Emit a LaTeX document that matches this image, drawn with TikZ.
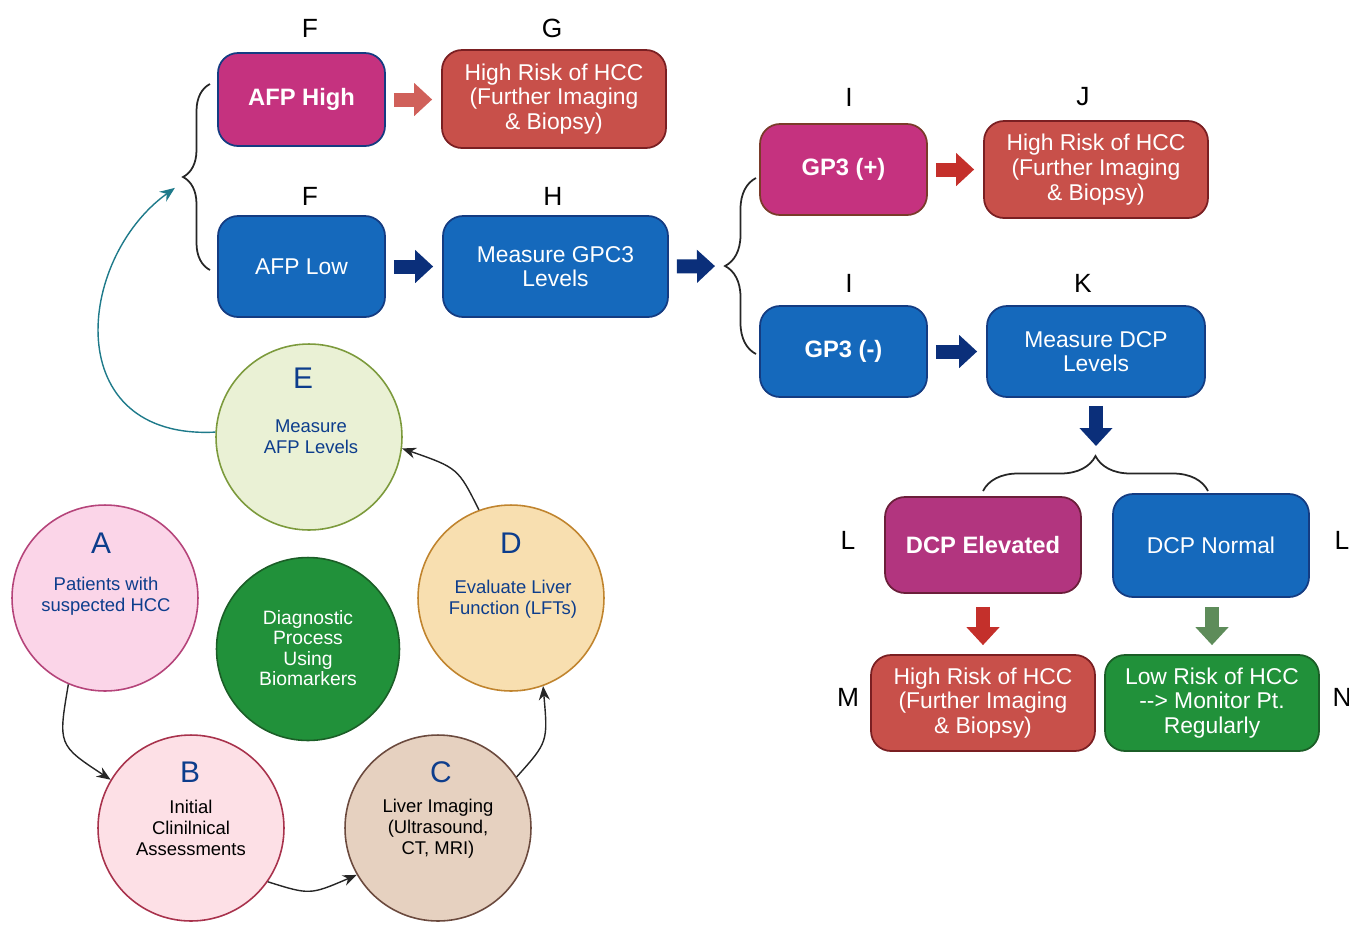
\documentclass[tikz,border=0pt]{standalone}
\usepackage{fontspec}
\setmainfont{Liberation Sans}
\usetikzlibrary{positioning,arrows.meta,decorations.pathreplacing}

\definecolor{boxmagenta}{HTML}{C5327F}
\definecolor{boxplum}{HTML}{B2357F}
\definecolor{boxred}{HTML}{C8504A}
\definecolor{boxblue}{HTML}{1569BC}
\definecolor{boxgreen}{HTML}{21913A}
\definecolor{edgenavy}{HTML}{143C82}
\definecolor{edgered}{HTML}{7A1F22}
\definecolor{edgegreen}{HTML}{1B5E27}
\definecolor{arrnavy}{HTML}{0B2F7A}
\definecolor{arrsalmon}{HTML}{D0605A}
\definecolor{arrred}{HTML}{C4302B}
\definecolor{arrgreen}{HTML}{5E8C5A}
\definecolor{txtblue}{HTML}{0D3D8C}
\definecolor{loopteal}{HTML}{1E7A8A}

\tikzset{
  box/.style={draw, rounded corners=0.4cm, line width=1pt, text=white, align=center,
    inner sep=2pt, font=\fontsize{13}{14}\selectfont},
  boldbox/.style={box, font=\bfseries\fontsize{13.5}{14}\selectfont},
  tag/.style={font=\fontsize{15}{15}\selectfont},
  stage/.style={circle, draw, line width=0.9pt, minimum size=3.72cm, inner sep=0pt},
  stageletter/.style={font=\fontsize{17}{17}\selectfont, text=txtblue},
  stagetext/.style={align=center, font=\fontsize{10.5}{12}\selectfont},
  blockarrow/.style={line width=0.28cm, -{Triangle[length=0.36cm,width=0.64cm]},
    shorten <=0.16cm, shorten >=0.18cm},
  curly/.style={decorate, line width=1pt, black!85},
  steparrow/.style={line width=0.8pt, black!85, -{Stealth[length=0.28cm,width=0.22cm]}}
}

\begin{document}
\begin{tikzpicture}[x=0.02cm, y=-0.02cm]
\useasboundingbox (0,0) rectangle (1349,924);

% Cycle of stages
\node[stage, fill={rgb,255:red,251;green,213;blue,232}, draw={rgb,255:red,181;green,68;blue,122}] (A) at (105,598) {};
\node[stage, fill={rgb,255:red,253;green,224;blue,230}, draw={rgb,255:red,168;green,50;blue,76}] (B) at (191,828) {};
\node[stage, fill={rgb,255:red,230;green,209;blue,192}, draw={rgb,255:red,107;green,74;blue,62}] (C) at (438,828) {};
\node[stage, fill={rgb,255:red,248;green,223;blue,176}, draw={rgb,255:red,192;green,132;blue,46}] (D) at (511,598) {};
\node[stage, fill={rgb,255:red,234;green,241;blue,213}, draw={rgb,255:red,124;green,154;blue,60}] (E) at (309,437) {};
\node[stage, fill=boxgreen, draw=edgegreen, minimum size=3.66cm] (hub) at (308,649) {};

\node[stageletter] at (101,543) {A};
\node[stageletter] at (190,772) {B};
\node[stageletter] at (441,772) {C};
\node[stageletter] at (511,543) {D};
\node[stageletter] at (303,378) {E};

\node[stagetext, text=txtblue] at (106,596) {Patients with\\suspected HCC};
\node[stagetext] at (191,828) {Initial\\Clinilnical\\Assessments};
\node[stagetext] at (438,829) {Liver Imaging\\(Ultrasound,\\CT, MRI)};
\node[stagetext, text=txtblue] at (513,599) {Evaluate Liver\\Function (LFTs)};
\node[stagetext, text=txtblue] at (311,437) {Measure\\AFP Levels};
\node[stagetext, text=white, font=\fontsize{11}{11.5}\selectfont] at (308,648) {Diagnostic\\Process\\Using\\Biomarkers};

\draw[steparrow] (A.-113) .. controls (58,745) .. (B.149);
\draw[steparrow] (B.-35) .. controls (310,895) .. (C.-150);
\draw[steparrow] (C.33) .. controls (548,742) .. (D.-70);
\draw[steparrow] (D.110) .. controls (458,468) .. (E.-7);

% AFP branch
\node[boldbox, fill=boxmagenta, draw=edgenavy, minimum width=3.34cm, minimum height=1.86cm] (afphigh) at (301.5,99.5) {AFP High};
\node[box, fill=boxred, draw=edgered, minimum width=4.48cm, minimum height=1.96cm] (riskG) at (554,99) {High Risk of HCC\\(Further Imaging\\\& Biopsy)};
\node[box, fill=boxblue, draw=edgenavy, minimum width=3.34cm, minimum height=2.02cm] (afplow) at (301.5,266.5) {AFP Low};
\node[box, fill=boxblue, draw=edgenavy, minimum width=4.5cm, minimum height=2.02cm] (gpc) at (555.5,266.5) {Measure GPC3\\Levels};

\node[tag] at (310,28) {F};
\node[tag] at (552,28) {G};
\node[tag] at (310,196) {F};
\node[tag] at (553,196) {H};

\draw[blockarrow, arrsalmon] (afphigh.east) -- (afphigh.east -| riskG.west);
\draw[blockarrow, arrnavy] (afplow.east) -- (afplow.east -| gpc.west);

\coordinate (tipL) at (183,182);
\draw[curly, decoration={brace, amplitude=0.54cm}] (210,270) -- (210,84);
\draw[line width=0.8pt, loopteal, -{Stealth[length=0.3cm,width=0.24cm]}, shorten >=0.2cm]
  (E.177) .. controls (60,440) and (75,260) .. (tipL);

% GPC3 branch
\node[boldbox, fill=boxmagenta, draw={rgb,255:red,122;green,59;blue,42}, minimum width=3.34cm, minimum height=1.82cm] (gpos) at (843.5,169.5) {GP3 (+)};
\node[box, fill=boxred, draw=edgered, minimum width=4.48cm, minimum height=1.94cm] (riskJ) at (1096,169.5) {High Risk of HCC\\(Further Imaging\\\& Biopsy)};
\node[boldbox, fill=boxblue, draw=edgenavy, minimum width=3.34cm, minimum height=1.82cm] (gneg) at (843.5,351.5) {GP3 (-)};
\node[box, fill=boxblue, draw=edgenavy, minimum width=4.36cm, minimum height=1.82cm] (dcp) at (1096,351.5) {Measure DCP\\Levels};

\node[tag] at (849,97) {I};
\node[tag] at (1083,97) {J};
\node[tag] at (849,283) {I};
\node[tag] at (1083,283) {K};

\coordinate (tipR) at (724,266);
\draw[blockarrow, arrnavy] (gpc.east) -- (tipR);
\draw[curly, decoration={brace, amplitude=0.62cm}] (756,354) -- (756,178);
\draw[blockarrow, arrred] (gpos.east) -- (gpos.east -| riskJ.west);
\draw[blockarrow, arrnavy] (gneg.east) -- (gneg.east -| dcp.west);

% DCP branch
\node[boldbox, fill=boxplum, draw={rgb,255:red,107;green,31;blue,58}, minimum width=3.92cm, minimum height=1.92cm] (dcphigh) at (983,545) {DCP Elevated};
\node[box, fill=boxblue, draw=edgenavy, minimum width=3.92cm, minimum height=2.06cm] (dcpnorm) at (1211,545.5) {DCP Normal};
\node[box, fill=boxred, draw=edgered, minimum width=4.48cm, minimum height=1.92cm] (riskM) at (983,703) {High Risk of HCC\\(Further Imaging\\\& Biopsy)};
\node[box, fill=boxgreen, draw=edgegreen, minimum width=4.28cm, minimum height=1.92cm] (lowN) at (1212,703) {Low Risk of HCC\\{-}{-}> Monitor Pt.\\Regularly};

\node[tag] at (848,540) {L};
\node[tag] at (1342,540) {L};
\node[tag] at (848,697) {M};
\node[tag] at (1342,697) {N};

\coordinate (tipB) at (1096,455);
\draw[blockarrow, arrnavy] (dcp.south) -- (tipB);
\draw[curly, decoration={brace, amplitude=0.7cm}] (983,491) -- (1208,491);
\draw[blockarrow, arrred, shorten <=0.26cm] (dcphigh.south) -- (dcphigh.south |- riskM.north);
\draw[blockarrow, arrgreen, shorten <=0.2cm] (1212,597) -- (lowN.north);
\end{tikzpicture}
\end{document}
